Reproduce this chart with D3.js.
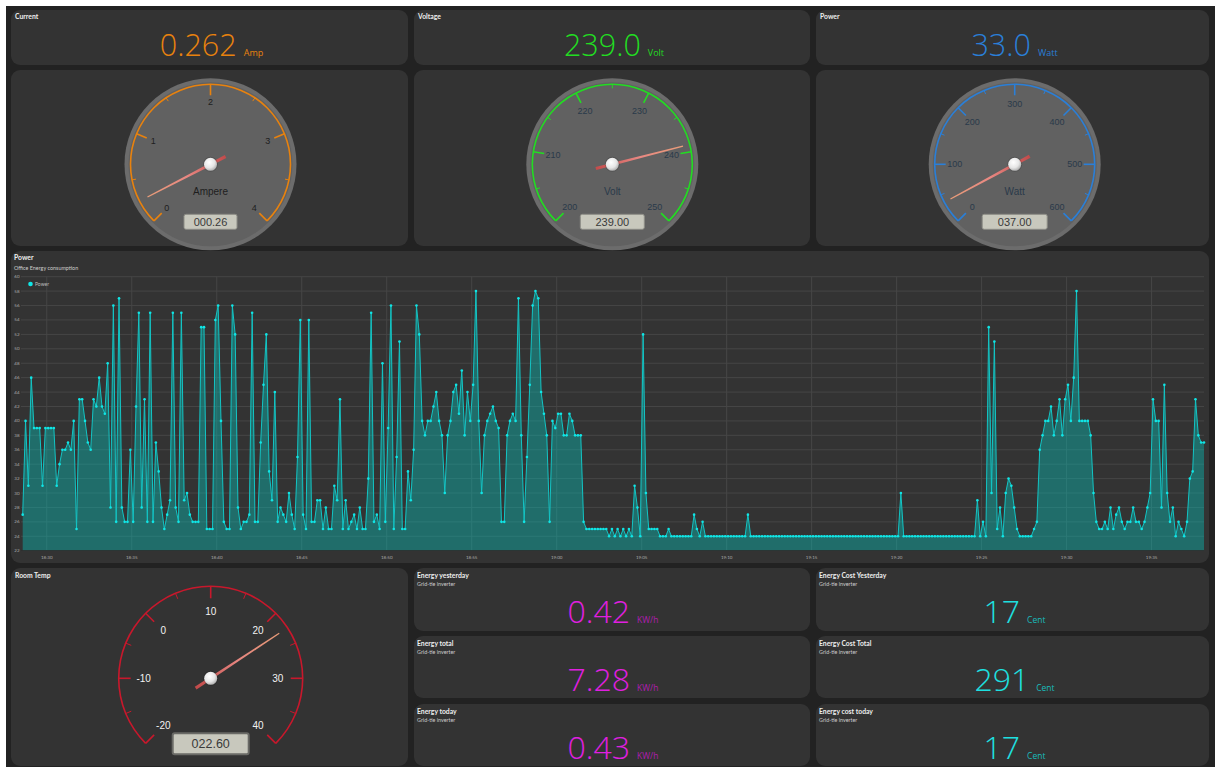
<!DOCTYPE html>
<html><head><meta charset="utf-8">
<script src="https://cdn.jsdelivr.net/npm/d3@7"></script>
<style>body{margin:0;background:#fff;overflow:hidden}svg{display:block}</style>
</head><body><svg id="c" width="1215" height="767"></svg>
<script>
// ---------------- DATA ----------------
const statTitles = ["Current", "Voltage", "Power"];
const statValues = ["0.262", "239.0", "33.0"];
const statUnits = ["Amp", "Volt", "Watt"];

const gaugeMins = [0, 200, 0, -20];
const gaugeMaxs = [4, 250, 600, 40];
const gaugeSteps = [1, 10, 100, 10];
const gaugeValues = [0.26, 239.0, 37.0, 22.6];
const gaugeUnits = ["Ampere", "Volt", "Watt", ""];

const energyTitles = ["Energy yesterday", "Energy total", "Energy today"];
const energyValues = ["0.42", "7.28", "0.43"];
const energyUnit = "KW/h";
const costTitles = ["Energy Cost Yesterday", "Energy Cost Total", "Energy cost today"];
const costValues = ["17", "291", "17"];
const costUnit = "Cent";
const subTitle = "Grid-tie inverter";

const chartTitle = "Power";
const chartSubtitle = "Office Energy consumption";
const seriesName = "Power";
const yTicks = [22,24,26,28,30,32,34,36,38,40,42,44,46,48,50,52,54,56,58,60];
const xTickLabels = ["18:30","18:35","18:40","18:45","18:50","18:55","19:00","19:05","19:10","19:15","19:20","19:25","19:30","19:35"];
const startTime = "18:28:35";
const endTime = "19:38:05";
const sampleSeconds = 10;
const powerValues = [
27,40,31,46,39,39,39,31,39,39,39,39,31,34,36,36,37,36,40,25,
43,43,40,37,36,43,42,46,42,41,48,28,56,26,57,28,26,26,36,26,
42,55,28,43,26,55,26,37,33,28,25,27,29,55,28,26,55,29,30,27,
26,26,26,53,53,25,25,25,54,56,40,26,25,25,56,52,28,25,26,26,
27,55,26,26,37,45,52,33,29,44,26,28,27,26,30,27,25,35,54,27,
25,54,26,26,29,29,25,28,25,25,31,29,43,25,29,25,26,27,25,28,
25,25,32,55,26,27,25,48,26,39,56,25,35,51,25,25,33,29,36,56,
52,
40,38,40,40,42,44,40,38,30,38,40,44,45,41,47,38,44,40,45,58,
40,30,38,40,41,42,40,39,26,26,38,40,41,40,57,38,26,35,45,56,
58,57,44,41,38,26,40,39,41,41,38,38,41,40,38,38,38,26,
25,25,25,25,25,25,25,25,24,25,24,25,
24,25,24,25,24,31,28,24,52,30,
25,25,25,25,24,24,24,25,24,24,
24,24,24,24,24,24,27,25,24,26,
24,24,24,24,24,24,24,24,24,24,24,24,24,24,24,
27,
24,24,24,24,24,24,24,24,24,24,24,24,24,24,24,24,24,24,24,24,24,24,24,24,24,24,
24,24,24,24,24,24,24,24,24,24,24,24,24,24,24,24,24,24,24,24,24,24,24,24,24,24,
24,30,24,
24,24,24,24,24,24,24,24,24,24,24,24,24,24,24,24,24,24,24,24,24,24,24,24,24,
29,24,26,24,53,30,51,25,28,24,30,32,31,28,25,24,24,24,24,24,
25,26,36,38,40,40,42,38,40,43,38,43,45,40,46,58,40,40,40,40,
38,30,26,25,25,26,25,28,25,27,28,26,25,26,26,28,26,26,25,26,
28,30,43,40,40,28,45,30,26,28,24,26,25,24,26,32,33,43,38,37,37
];

// ---------------- DRAW ----------------
const svg = d3.select("#c");
const defs = svg.append("defs");
const TITLE_FONT = "Lato, 'Open Sans', sans-serif";
const NUM_FONT = "'Open Sans', Lato, sans-serif";
const GAUGE_FONT = "'Liberation Sans', Arial, sans-serif";

svg.append("rect").attr("x", 6).attr("y", 6).attr("width", 1209).attr("height", 761).attr("fill", "#222");

function panel(x, y, w, h) {
  svg.append("rect").attr("x", x).attr("y", y).attr("width", w).attr("height", h)
    .attr("rx", 9).attr("fill", "#333");
}
function title(x, y, t, sub) {
  svg.append("text").attr("x", x).attr("y", y).text(t)
    .attr("font-family", TITLE_FONT).attr("font-weight", "bold").attr("font-size", 6.8).attr("fill", "#eee");
  if (sub) svg.append("text").attr("x", x).attr("y", y + 8).text(sub)
    .attr("font-family", TITLE_FONT).attr("font-size", 5.4).attr("fill", "#ccc");
}
function bigValue(cx, y, val, unit, color, unitColor, fs, ufs) {
  const t = svg.append("text").attr("x", cx).attr("y", y).attr("text-anchor", "middle")
    .attr("font-family", NUM_FONT).attr("font-weight", 300);
  t.append("tspan").text(val).attr("font-size", fs).attr("fill", color);
  t.append("tspan").text(unit).attr("font-size", ufs).attr("fill", unitColor).attr("dx", 7).attr("font-weight", 400);
}

const cols = [[11, 397], [414, 396], [816, 393]];
const colCenters = cols.map(c => c[0] + c[1] / 2);
const statColors = ["#e8820e", "#22dd22", "#2a7fd8"];

// Row 1 stat tiles
statTitles.forEach((t, i) => {
  panel(cols[i][0], 10, cols[i][1], 55);
  title(cols[i][0] + 4, 19, t);
  bigValue(colCenters[i] + 2, 56, statValues[i], statUnits[i], statColors[i], statColors[i], 30.5, 9);
});

// Row 2 gauges
cols.forEach(c => panel(c[0], 70, c[1], 176));

function gauge(i, cx, cy, o) {
  const min = gaugeMins[i], max = gaugeMaxs[i], step = gaugeSteps[i];
  const ang = d3.scaleLinear().domain([min, max]).range([-135, 135]);
  const rad = d => d * Math.PI / 180;
  const g = svg.append("g").attr("transform", `translate(${cx},${cy})`);
  if (o.face) {
    g.append("circle").attr("r", 86).attr("fill", "#6c6c6c");
    g.append("circle").attr("r", 82).attr("fill", "#616161");
  }
  g.append("path").attr("d", d3.arc()({innerRadius: o.r - 0.8, outerRadius: o.r + 0.8,
    startAngle: rad(-135), endAngle: rad(135)})).attr("fill", o.color);
  const majors = d3.range(min, max + step / 2, step);
  const minors = d3.range(min + step / 2, max, step);
  const tick = (v, len, w) => {
    const a = rad(ang(v));
    g.append("line")
      .attr("x1", (o.r - len) * Math.sin(a)).attr("y1", -(o.r - len) * Math.cos(a))
      .attr("x2", o.r * Math.sin(a)).attr("y2", -o.r * Math.cos(a))
      .attr("stroke", o.color).attr("stroke-width", w);
  };
  majors.forEach(v => tick(v, o.major, 1.6));
  minors.forEach(v => tick(v, o.minor, 1));
  majors.forEach(v => {
    const a = rad(ang(v));
    g.append("text").attr("x", o.rl * Math.sin(a)).attr("y", -o.rl * Math.cos(a))
      .attr("text-anchor", "middle").attr("dominant-baseline", "central")
      .attr("font-family", GAUGE_FONT).attr("font-size", o.fs).attr("fill", o.labelColor)
      .text(v);
  });
  if (gaugeUnits[i]) g.append("text").attr("y", 27).attr("text-anchor", "middle")
    .attr("dominant-baseline", "central").attr("font-family", GAUGE_FONT)
    .attr("font-size", 10).attr("fill", o.unitColor).text(gaugeUnits[i]);
  // LCD
  g.append("rect").attr("x", -o.lw / 2).attr("y", o.ly - o.lh / 2).attr("width", o.lw).attr("height", o.lh)
    .attr("rx", 2).attr("fill", "#c8c8bd").attr("stroke", o.lcdStroke).attr("stroke-width", o.lsw);
  g.append("text").attr("y", o.ly).attr("text-anchor", "middle").attr("dominant-baseline", "central")
    .attr("font-family", GAUGE_FONT).attr("font-size", o.lfs).attr("fill", "#3a3a3a")
    .text(d3.format("06.2f")(gaugeValues[i]));
  // needle
  const gid = "ng" + i;
  const lg = defs.append("linearGradient").attr("id", gid).attr("x1", 0).attr("y1", 1).attr("x2", 0).attr("y2", 0);
  lg.append("stop").attr("offset", 0).attr("stop-color", "#c84a4a");
  lg.append("stop").attr("offset", 0.5).attr("stop-color", "#f08a84");
  lg.append("stop").attr("offset", 1).attr("stop-color", "#f0a07a");
  const ng = g.append("g").attr("transform", `rotate(${ang(gaugeValues[i])})`);
  ng.append("path").attr("d", `M-1.6,${o.tail} L1.6,${o.tail} L0.6,${-o.len} L-0.6,${-o.len} Z`)
    .attr("fill", `url(#${gid})`).attr("opacity", 0.95);
  g.append("circle").attr("r", 7.5).attr("fill", "rgba(0,0,0,0.15)");
  g.append("circle").attr("r", 6.5).attr("fill", "url(#pivot)");
}
const pv = defs.append("radialGradient").attr("id", "pivot").attr("cx", "40%").attr("cy", "35%").attr("r", "70%");
pv.append("stop").attr("offset", 0).attr("stop-color", "#ffffff");
pv.append("stop").attr("offset", 0.6).attr("stop-color", "#e6e6e6");
pv.append("stop").attr("offset", 1).attr("stop-color", "#a9a9a9");

gauge(0, 210.5, 164.3, {face: true, r: 80, major: 11, minor: 4, rl: 62, fs: 9, color: "#e8820e",
  labelColor: "#1e1e1e", unitColor: "#1e1e1e", lw: 53, lh: 15, ly: 57.5, lfs: 11, lcdStroke: "#8d8d86", lsw: 1, len: 71, tail: 17});
gauge(1, 612.3, 164.3, {face: true, r: 80, major: 11, minor: 4, rl: 60, fs: 9, color: "#22dd22",
  labelColor: "#2a3a4a", unitColor: "#2a3a4a", lw: 64, lh: 15, ly: 57.5, lfs: 11, lcdStroke: "#8d8d86", lsw: 1, len: 73, tail: 17});
gauge(2, 1014.7, 164.3, {face: true, r: 80, major: 11, minor: 4, rl: 60, fs: 9, color: "#2a7fd8",
  labelColor: "#2a3a4a", unitColor: "#2a3a4a", lw: 65, lh: 15, ly: 57.5, lfs: 11, lcdStroke: "#8d8d86", lsw: 1, len: 73, tail: 17});

// Chart panel
panel(11, 251, 1198, 312);
svg.append("text").attr("x", 14).attr("y", 260).text(chartTitle)
  .attr("font-family", TITLE_FONT).attr("font-weight", "bold").attr("font-size", 6.8).attr("fill", "#eee");
svg.append("text").attr("x", 14).attr("y", 270).text(chartSubtitle)
  .attr("font-family", TITLE_FONT).attr("font-size", 5.4).attr("fill", "#ccc");

const parseHM = d3.timeParse("%H:%M");
const parseHMS = d3.timeParse("%H:%M:%S");
const t0 = parseHMS(startTime), t1 = parseHMS(endTime);
const x = d3.scaleTime().domain([t0, t1]).range([22.7, 1204]);
const y = d3.scaleLinear().domain([22, 60]).range([550.7, 276.7]);
const pts = powerValues.map((v, i) => ({t: new Date(t0.getTime() + i * sampleSeconds * 1000), v}));

const grid = svg.append("g");
yTicks.forEach(v => {
  grid.append("line").attr("x1", 21).attr("x2", 1204).attr("y1", y(v)).attr("y2", y(v))
    .attr("stroke", "#464646").attr("stroke-width", 1);
  svg.append("text").attr("x", 19.5).attr("y", y(v)).attr("text-anchor", "end").attr("dominant-baseline", "central")
    .attr("font-family", TITLE_FONT).attr("font-size", 4.5).attr("fill", "#aaa").text(v);
});
const xt = xTickLabels.map(parseHM);
xt.forEach((d, i) => {
  grid.append("line").attr("x1", x(d)).attr("x2", x(d)).attr("y1", 276.7).attr("y2", 550.7)
    .attr("stroke", "#464646").attr("stroke-width", 1);
  svg.append("text").attr("x", x(d)).attr("y", 557).attr("text-anchor", "middle").attr("dominant-baseline", "central")
    .attr("font-family", TITLE_FONT).attr("font-size", 4.5).attr("fill", "#aaa").text(xTickLabels[i]);
});

svg.append("path").datum(pts)
  .attr("d", d3.area().x(d => x(d.t)).y0(y(22)).y1(d => y(d.v)))
  .attr("fill", "rgb(0,210,200)").attr("fill-opacity", 0.37);
svg.append("path").datum(pts)
  .attr("d", d3.line().x(d => x(d.t)).y(d => y(d.v)))
  .attr("fill", "none").attr("stroke", "#13c4c4").attr("stroke-width", 1);
svg.append("line").attr("x1", 21).attr("x2", 1204).attr("y1", y(22)).attr("y2", y(22))
  .attr("stroke", "#2a2a2a").attr("stroke-width", 1);
svg.append("g").selectAll("circle").data(pts).join("circle")
  .attr("cx", d => x(d.t)).attr("cy", d => y(d.v)).attr("r", 1.3).attr("fill", "#10e6e6");

// legend
svg.append("circle").attr("cx", 30.5).attr("cy", 284).attr("r", 2.3).attr("fill", "#10e6e6");
svg.append("text").attr("x", 35).attr("y", 284).attr("dominant-baseline", "central")
  .attr("font-family", TITLE_FONT).attr("font-size", 5).attr("fill", "#bbb").text(seriesName);

// Row 4
panel(11, 568, 397, 198);
title(15, 578, "Room Temp");
gauge(3, 210.7, 678.3, {face: false, r: 92, major: 12, minor: 6, rl: 67, fs: 10, color: "#c8182c",
  labelColor: "#f2f2f2", unitColor: "#eee", lw: 76, lh: 21, ly: 65.4, lfs: 12.5, lcdStroke: "#6a6a66", lsw: 2, len: 82, tail: 18});

const rowYs = [568, 636, 704];
const rowHs = [63, 62, 62];
energyTitles.forEach((t, i) => {
  panel(cols[1][0], rowYs[i], cols[1][1], rowHs[i]);
  title(cols[1][0] + 3, rowYs[i] + 9.5, t, subTitle);
  bigValue(colCenters[1] + 1, rowYs[i] + 55, energyValues[i], energyUnit, "#e01fe0", "#b21cb2", 32, 8.5);
});
costTitles.forEach((t, i) => {
  panel(cols[2][0], rowYs[i], cols[2][1], rowHs[i]);
  title(cols[2][0] + 3, rowYs[i] + 9.5, t, subTitle);
  bigValue(colCenters[2] + 2, rowYs[i] + 55, costValues[i], costUnit, "#1ee0e0", "#19bcbc", 32, 8.5);
});
</script></body></html>
